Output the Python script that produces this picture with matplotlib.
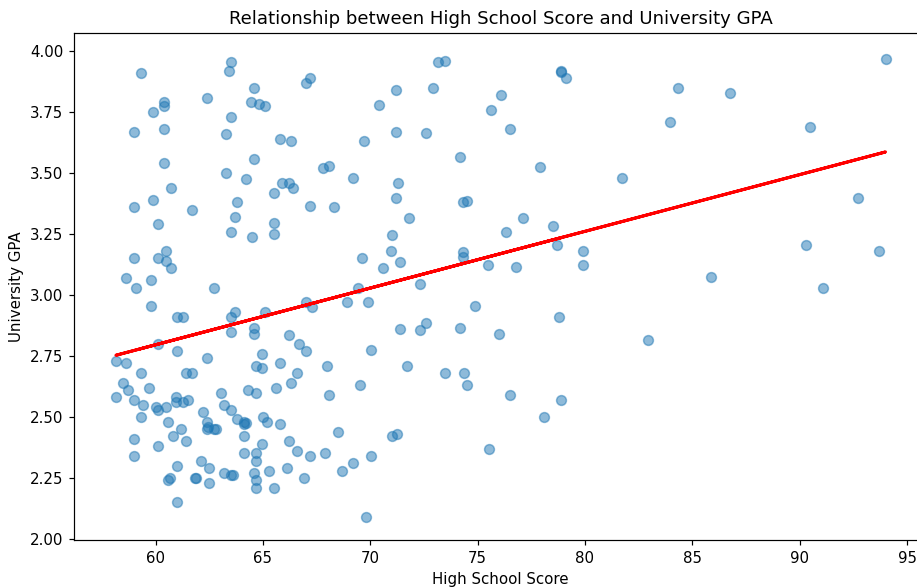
import numpy as np
import matplotlib
matplotlib.use("Agg")
import matplotlib.pyplot as plt

high_school_score = [
    59.3, 63.5, 63.4, 62.4, 64.6, 64.45, 60.4, 60.4, 59.86, 63.5, 59.0, 60.4, 63.3, 64.6, 60.4, 63.3, 64.2, 60.7, 59.86, 63.8, 59.0, 61.7,
    67.2, 67.0, 64.8, 65.1, 71.2, 70.4, 71.2, 65.8, 66.3, 69.7, 67.8, 68.1, 65.9, 66.2, 66.4, 65.5, 69.2, 71.3, 71.2, 67.2, 68.3,
    73.15, 73.5, 72.9, 76.1, 75.6, 76.5, 72.6, 74.2, 77.9, 74.3, 74.5,
    78.9, 78.9, 79.1, 94.0, 84.35, 86.77, 83.95, 90.47, 81.74, 92.7,
    63.7, 60.1, 63.5, 64.5, 60.5, 59.0, 60.1, 60.5, 60.7, 58.6, 59.8, 59.1, 62.7, 59.8, 63.5, 63.7, 61.0, 61.3, 63.5, 64.6, 64.6, 60.1, 61.0, 62.4,
    65.5, 65.5, 71.0, 70.95, 69.6, 70.6, 71.4, 69.45, 67.0, 67.3, 68.9, 69.9, 65.1, 66.2, 66.7, 67.0, 70.05, 64.95, 71.4,
    71.8, 76.3, 77.1, 74.3, 74.3, 75.5, 76.8, 72.3, 74.9, 72.6, 72.3, 74.2, 76.0,
    78.5, 78.7, 79.9, 79.9, 78.8, 82.95, 85.86, 90.28, 93.7, 91.08,
    58.15, 58.6, 59.3, 58.5, 58.7, 59.7, 58.15, 59.0, 59.4, 60.0, 60.1, 60.5, 59.3, 60.97, 60.97, 61.3, 61.5, 61.4, 61.7,
    60.6, 61.2, 60.8, 61.4, 59.0, 59.0, 60.1, 62.2, 62.4, 62.45, 62.7, 62.4, 62.8, 63.05, 63.2, 63.5, 63.8, 64.1, 64.2, 64.1,
    64.3, 64.1, 64.1, 61.0, 60.65, 60.6, 61.85, 61.87, 62.1, 62.5, 62.5, 63.2, 63.6, 63.5, 61.0,
    64.7, 64.95, 65.8, 66.6, 68.0, 66.3, 65.6, 64.7, 69.5, 68.1, 65.0, 65.2, 65.8, 64.95, 68.5, 66.2, 71.0, 71.25,
    64.7, 64.7, 66.6, 67.2, 67.9, 70.05, 69.2, 68.7, 64.6, 64.7, 64.7, 65.3, 66.1, 66.9, 65.5, 69.8,
    71.7, 73.5, 74.35, 74.5, 76.5, 78.1, 75.55, 78.9,
]

university_gpa = [
    3.91, 3.955, 3.92, 3.81, 3.85, 3.79, 3.79, 3.775, 3.75, 3.73, 3.67, 3.68, 3.66, 3.56, 3.54, 3.50, 3.475, 3.44, 3.39, 3.38, 3.36, 3.35,
    3.89, 3.87, 3.785, 3.775, 3.84, 3.78, 3.67, 3.64, 3.63, 3.63, 3.52, 3.53, 3.46, 3.46, 3.44, 3.42, 3.48, 3.46, 3.40, 3.365, 3.36,
    3.955, 3.96, 3.85, 3.82, 3.76, 3.68, 3.665, 3.565, 3.525, 3.38, 3.385,
    3.92, 3.915, 3.89, 3.97, 3.85, 3.83, 3.71, 3.69, 3.48, 3.40,
    3.32, 3.29, 3.26, 3.24, 3.18, 3.15, 3.15, 3.14, 3.11, 3.07, 3.06, 3.03, 3.03, 2.955, 2.91, 2.93, 2.91, 2.91, 2.85, 2.865, 2.84, 2.80, 2.77, 2.74,
    3.295, 3.25, 3.245, 3.18, 3.15, 3.11, 3.135, 3.03, 2.97, 2.95, 2.97, 2.97, 2.93, 2.835, 2.80, 2.77, 2.775, 2.76, 2.86,
    3.315, 3.26, 3.315, 3.175, 3.155, 3.125, 3.115, 3.045, 2.955, 2.885, 2.855, 2.865, 2.84,
    3.285, 3.205, 3.18, 3.125, 2.91, 2.815, 3.075, 3.205, 3.18, 3.03,
    2.73, 2.72, 2.68, 2.64, 2.61, 2.62, 2.58, 2.57, 2.55, 2.54, 2.53, 2.54, 2.50, 2.58, 2.56, 2.56, 2.57, 2.68, 2.68,
    2.48, 2.45, 2.42, 2.40, 2.41, 2.34, 2.38, 2.52, 2.48, 2.46, 2.45, 2.45, 2.45, 2.60, 2.55, 2.53, 2.49, 2.48, 2.475, 2.47,
    2.61, 2.42, 2.35, 2.30, 2.25, 2.24, 2.25, 2.25, 2.32, 2.29, 2.23, 2.27, 2.26, 2.26, 2.15,
    2.71, 2.70, 2.72, 2.68, 2.71, 2.64, 2.62, 2.60, 2.63, 2.59, 2.50, 2.48, 2.47, 2.39, 2.44, 2.40, 2.42, 2.43,
    2.35, 2.32, 2.36, 2.34, 2.35, 2.34, 2.31, 2.28, 2.27, 2.24, 2.21, 2.28, 2.29, 2.25, 2.21, 2.09,
    2.71, 2.68, 2.68, 2.63, 2.59, 2.50, 2.37, 2.57,
]

x = np.array(high_school_score)
y = np.array(university_gpa)

k = 1.085  # point scale of the reference
fig = plt.figure(figsize=(9.17, 5.88), dpi=100)
W, H = 917, 588
ax = fig.add_axes([74 / W, (H - 540) / H, 853 / W, 507 / H])

ax.scatter(x, y, s=50, alpha=0.5, color="#1f77b4", linewidths=1.0 * k)

slope, intercept = np.polyfit(x, y, 1)
ax.plot(x, slope * x + intercept, color="red", linewidth=2 * k)

ax.set_xlim(56.2, 95.93)
ax.set_ylim(1.995, 4.075)
ax.set_yticks([2.0, 2.25, 2.5, 2.75, 3.0, 3.25, 3.5, 3.75, 4.0])
ax.yaxis.set_major_formatter(matplotlib.ticker.FormatStrFormatter("%.2f"))

for s in ax.spines.values():
    s.set_linewidth(0.8 * k)
ax.tick_params(labelsize=10 * k, length=3.5 * k, width=0.8 * k, pad=3.5 * k)
ax.set_title("Relationship between High School Score and University GPA", fontsize=12 * k, pad=6 * k)
ax.set_xlabel("High School Score", fontsize=10 * k, labelpad=4 * k)
ax.set_ylabel("University GPA", fontsize=10 * k, labelpad=4 * k)

fig.savefig("out.png", dpi=100)
